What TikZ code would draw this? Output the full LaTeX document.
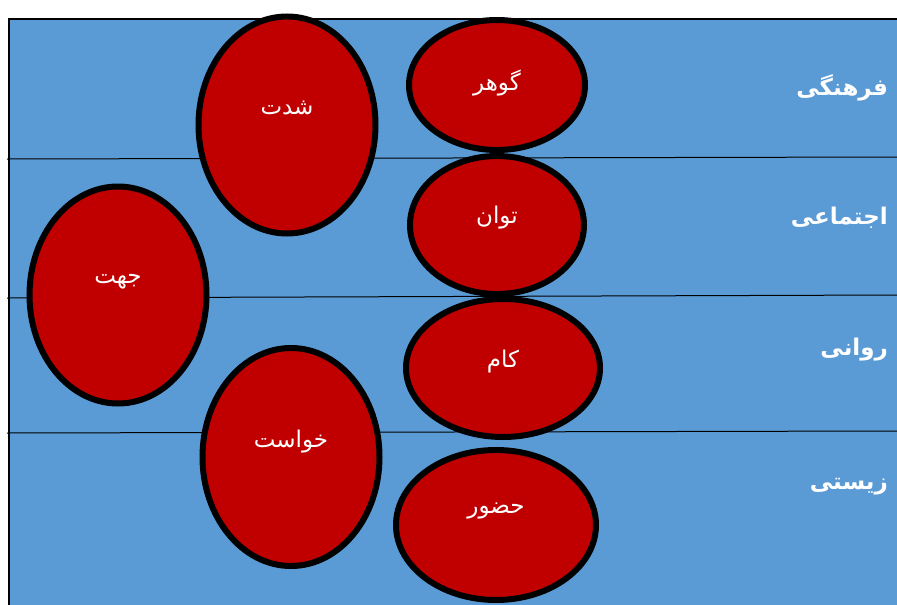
\documentclass[tikz,border=0pt]{standalone}
\usepackage{fontspec}
\usepackage{tikz}
\usetikzlibrary{shapes.geometric}
\TeXXeTstate=1
\newfontfamily\arabicfont[Script=Arabic]{DejaVu Sans}
\definecolor{bgblue}{RGB}{91,155,213}
\definecolor{blobred}{RGB}{192,0,0}
\tikzset{
  blob/.style={ellipse,draw=black,line width=6pt,fill=blobred,inner sep=0pt},
  word/.style={text=white,font=\arabicfont\fontsize{23}{26}\selectfont,inner sep=0pt},
  layer/.style={text=white,font=\arabicfont\bfseries\fontsize{23}{26}\selectfont,anchor=east,inner sep=0pt}
}

\begin{document}
\begin{tikzpicture}[x=1pt,y=-1pt]
\useasboundingbox (0,0) rectangle (897,605);
\fill[bgblue] (9,19) rectangle (897,605);
\draw[line width=1.5pt] (9,605) -- (9,19) -- (897,19);
\draw[line width=1pt] (7,159) -- (897,157);
\draw[line width=1pt] (7,298) -- (897,295);
\draw[line width=1pt] (7,433) -- (897,431);
% ellipses
\node[blob,minimum width=177,minimum height=217] (shiddat) at (287,125) {};
\node[blob,minimum width=176,minimum height=130] (gohar) at (497,85) {};
\node[blob,minimum width=174,minimum height=138] (tavan) at (497,225) {};
\node[blob,minimum width=177,minimum height=217] (jahat) at (118,295) {};
\node[blob,minimum width=194,minimum height=138] (kam) at (503,368) {};
\node[blob,minimum width=177,minimum height=218] (khast) at (291,457) {};
\node[blob,minimum width=200,minimum height=150] (hozur) at (496,525) {};
% words
\node[word] (shiddatT) at ([yshift=17]shiddat.center) {\beginR شدت\endR};
\node[word] (goharT) at ([yshift=2]gohar.center) {\beginR گوهر\endR};
\node[word] (tavanT) at ([yshift=7]tavan.center) {\beginR توان\endR};
\node[word] (jahatT) at ([yshift=13]jahat.center) {\beginR جهت\endR};
\node[word] (kamT) at ([yshift=6]kam.center) {\beginR کام\endR};
\node[word] (khastT) at ([yshift=15]khast.center) {\beginR خواست\endR};
\node[word] (hozurT) at ([yshift=14]hozur.center) {\beginR حضور\endR};
% layers
\node[layer] (farhangi) at (888,88) {\beginR فرهنگی\endR};
\node[layer] (ejtemai) at (888,218) {\beginR اجتماعی\endR};
\node[layer] (ravani) at (888,350) {\beginR روانی\endR};
\node[layer] (zisti) at (888,487) {\beginR زیستی\endR};
\end{tikzpicture}
\end{document}
